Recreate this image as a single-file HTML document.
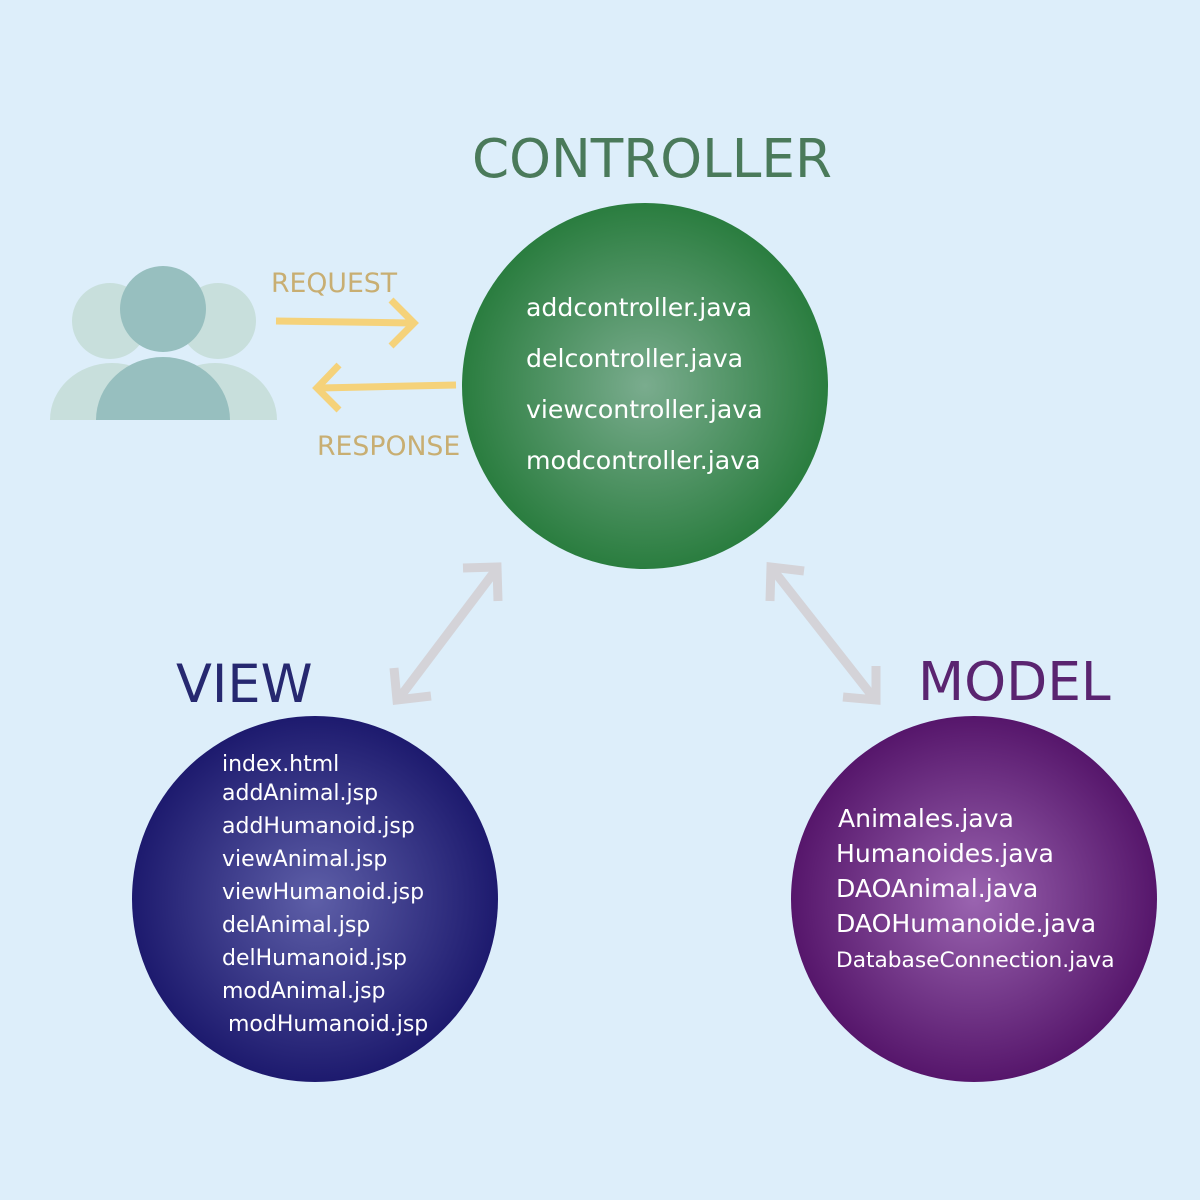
<!DOCTYPE html>
<html><head><meta charset="utf-8"><style>html,body{margin:0;padding:0;background:#ddeefa}svg{display:block}</style></head>
<body>
<svg width="1200" height="1200" viewBox="0 0 1200 1200" xmlns="http://www.w3.org/2000/svg" font-family="DejaVu Sans, Liberation Sans, sans-serif">
<defs>
<radialGradient id="gc"><stop offset="0" stop-color="#7aac8e"/><stop offset="1" stop-color="#2a7d3f"/></radialGradient>
<radialGradient id="gv"><stop offset="0" stop-color="#5e5fa8"/><stop offset="1" stop-color="#1d1a6e"/></radialGradient>
<radialGradient id="gm"><stop offset="0" stop-color="#9a64b0"/><stop offset="1" stop-color="#56166b"/></radialGradient>
</defs>
<rect width="1200" height="1200" fill="#ddeefa"/>
<path d="M50 420 A62 57 0 0 1 174 420 Z" fill="#c8dfdc"/>
<path d="M153 420 A62 57 0 0 1 277 420 Z" fill="#c8dfdc"/>
<circle cx="110" cy="321" r="38" fill="#c8dfdc"/>
<circle cx="218" cy="321" r="38" fill="#c8dfdc"/>
<path d="M96 420 A67 63 0 0 1 230 420 Z" fill="#97bfbf"/>
<circle cx="163" cy="309" r="43" fill="#97bfbf"/>
<g stroke="#f5d27a" stroke-width="7" fill="none">
<line x1="276" y1="321" x2="412" y2="323"/><polyline points="391,300 414,323 391,346"/>
<line x1="456" y1="385" x2="320" y2="388"/><polyline points="339,365 317,388 339,410"/>
</g>
<text x="271" y="292" font-size="26.7" fill="#c8ae72">REQUEST</text>
<text x="317" y="455" font-size="26.7" fill="#c8ae72">RESPONSE</text>
<g stroke="#d4d3d8" stroke-width="9" fill="none">
<line x1="400" y1="697" x2="495" y2="571"/><polyline points="463,568 497,567 498,601"/><polyline points="394,668 397,700 431,696"/>
<line x1="774" y1="571" x2="873" y2="697"/><polyline points="770,601 771,567 804,571"/><polyline points="843,697 876,700 876,666"/>
</g>
<circle cx="645" cy="386" r="183" fill="url(#gc)"/>
<circle cx="315" cy="899" r="183" fill="url(#gv)"/>
<circle cx="974" cy="899" r="183" fill="url(#gm)"/>
<text x="472" y="177" font-size="53.2" fill="#4a7a5a">CONTROLLER</text>
<text x="176" y="702" font-size="52.5" fill="#262870">VIEW</text>
<text x="918" y="700" font-size="53.4" fill="#5a2470">MODEL</text>
<g fill="#fff" font-size="25.2">
<text x="526" y="316">addcontroller.java</text>
<text x="526" y="367">delcontroller.java</text>
<text x="526" y="418">viewcontroller.java</text>
<text x="526" y="469">modcontroller.java</text>
</g>
<g fill="#fff" font-size="22">
<text x="222" y="771">index.html</text>
<text x="222" y="800">addAnimal.jsp</text>
<text x="222" y="833">addHumanoid.jsp</text>
<text x="222" y="866">viewAnimal.jsp</text>
<text x="222" y="899">viewHumanoid.jsp</text>
<text x="222" y="932">delAnimal.jsp</text>
<text x="222" y="965">delHumanoid.jsp</text>
<text x="222" y="998">modAnimal.jsp</text>
<text x="228" y="1031">modHumanoid.jsp</text>
</g>
<g fill="#fff" font-size="25.1">
<text x="838" y="827">Animales.java</text>
<text x="836" y="862">Humanoides.java</text>
<text x="836" y="897">DAOAnimal.java</text>
<text x="836" y="932">DAOHumanoide.java</text>
<text x="836" y="967" font-size="21.7">DatabaseConnection.java</text>
</g>
</svg>
</body></html>
